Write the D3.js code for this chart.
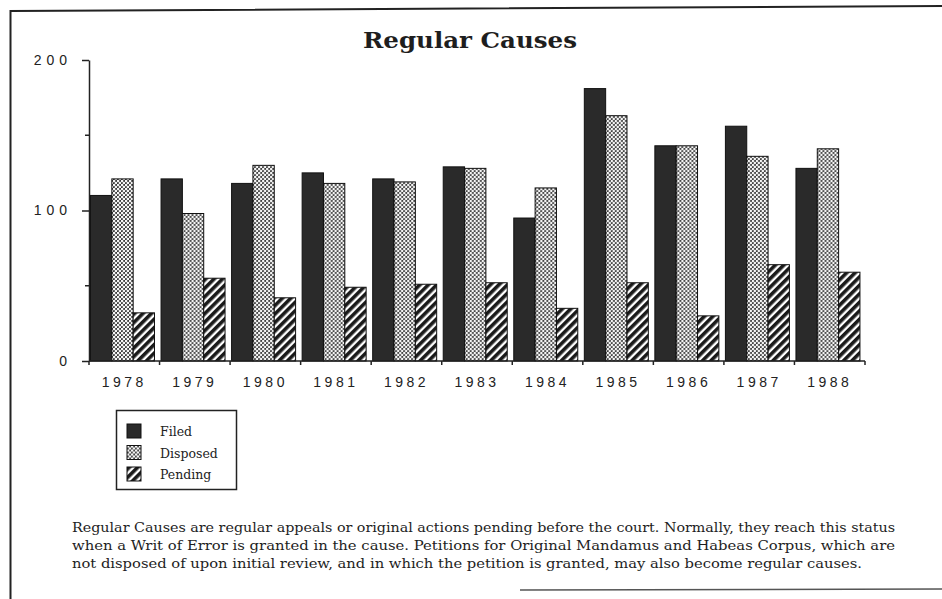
<!DOCTYPE html>
<html>
<head>
<meta charset="utf-8">
<script src="https://cdn.jsdelivr.net/npm/d3@7"></script>
<style>
  html, body { margin: 0; padding: 0; background: #fff; }
  svg { display: block; }
</style>
</head>
<body>
<div id="chart"></div>
<script>
// ── Data ──────────────────────────────────────────────────────────────────────
const years = ["1978", "1979", "1980", "1981", "1982", "1983", "1984", "1985", "1986", "1987", "1988"];
const seriesNames = ["Filed", "Disposed", "Pending"];
const filed    = [110, 121, 118, 125, 121, 129, 95, 181, 143, 156, 128];
const disposed = [121,  98, 130, 118, 119, 128, 115, 163, 143, 136, 141];
const pending  = [ 32,  55,  42,  49,  51,  52,  35,  52,  30,  64,  59];
const yTicks = [0, 100, 200];
const yMinorTicks = [50, 150];
const captionLines = [
  "Regular Causes are regular appeals or original actions pending before the court. Normally, they reach this status",
  "when a Writ of Error is granted in the cause.  Petitions for Original Mandamus and Habeas Corpus, which are",
  "not disposed of upon initial review, and in which the petition is granted, may also become regular causes.",
];

const W = 942, H = 599;
const svg = d3.select("#chart").append("svg").attr("width", W).attr("height", H);

// ── Fill patterns
const defs = svg.append("defs");

const dots = defs.append("pattern")
  .attr("id", "pat-disposed")
  .attr("patternUnits", "userSpaceOnUse")
  .attr("width", 4).attr("height", 4);
dots.append("rect").attr("width", 4).attr("height", 4).attr("fill", "#3c3c3c");
dots.append("circle").attr("cx", 1).attr("cy", 1).attr("r", 1.35).attr("fill", "#f4f4f4");
dots.append("circle").attr("cx", 3).attr("cy", 3).attr("r", 1.35).attr("fill", "#f4f4f4");

const stripes = defs.append("pattern")
  .attr("id", "pat-pending")
  .attr("patternUnits", "userSpaceOnUse")
  .attr("width", 6).attr("height", 6)
  .attr("patternTransform", "rotate(45)");
stripes.append("rect").attr("width", 6).attr("height", 6).attr("fill", "#fff");
stripes.append("rect").attr("width", 3.6).attr("height", 6).attr("fill", "#1a1a1a");

const fills = {
  Filed: "#2a2a2a",
  Disposed: "url(#pat-disposed)",
  Pending: "url(#pat-pending)",
};

// ── Frame (scanned page border)
svg.append("path")
  .attr("d", "M10.5,599 L10.5,11 L942,6")
  .attr("fill", "none").attr("stroke", "#222").attr("stroke-width", 2);
svg.append("line")
  .attr("x1", 520).attr("x2", 942).attr("y1", 590).attr("y2", 589)
  .attr("stroke", "#555").attr("stroke-width", 1.5);

// ── Title
svg.append("text")
  .attr("x", 470).attr("y", 48)
  .attr("text-anchor", "middle")
  .attr("font-family", "'DejaVu Serif', serif")
  .attr("font-weight", "bold")
  .attr("font-size", 22)
  .attr("textLength", 214)
  .attr("lengthAdjust", "spacingAndGlyphs")
  .attr("fill", "#1e1e1e")
  .text("Regular Causes");

// ── Scales
const x0 = d3.scaleBand().domain(years).range([89, 865]);
const x1 = d3.scaleBand().domain(seriesNames).range([1.5, 65.5]);
const y = d3.scaleLinear().domain([0, 200]).range([361, 60]);

const rows = years.map((yr, i) => ({
  year: yr,
  values: [
    { key: "Filed", value: filed[i] },
    { key: "Disposed", value: disposed[i] },
    { key: "Pending", value: pending[i] },
  ],
}));

// ── Bars
const groups = svg.append("g").selectAll("g")
  .data(rows)
  .join("g")
  .attr("transform", (d) => `translate(${x0(d.year)},0)`);

groups.selectAll("rect")
  .data((d) => d.values)
  .join("rect")
  .attr("x", (d) => x1(d.key))
  .attr("y", (d) => y(d.value))
  .attr("width", x1.bandwidth())
  .attr("height", (d) => y(0) - y(d.value))
  .attr("fill", (d) => fills[d.key])
  .attr("stroke", "#111")
  .attr("stroke-width", 1);

// ── Y axis
const yAxis = svg.append("g")
  .attr("transform", "translate(89,0)")
  .call(d3.axisLeft(y).tickValues(yTicks).tickSize(7).tickPadding(10).tickSizeOuter(0));
yAxis.select(".domain").attr("stroke", "#222").attr("stroke-width", 1.5);
yAxis.selectAll(".tick line").attr("stroke", "#222").attr("stroke-width", 1.5);
yAxis.selectAll(".tick text")
  .attr("font-family", "'Liberation Sans', Arial, sans-serif")
  .attr("font-size", 14)
  .attr("letter-spacing", 5)
  .attr("fill", "#222");

svg.append("g").selectAll("line")
  .data(yMinorTicks)
  .join("line")
  .attr("x1", 85).attr("x2", 89)
  .attr("y1", (d) => y(d)).attr("y2", (d) => y(d))
  .attr("stroke", "#222").attr("stroke-width", 1.5);

// ── X axis (ticks at group boundaries, labels centred)
const xg = svg.append("g");
xg.append("line")
  .attr("x1", x0.range()[0]).attr("x2", x0.range()[1])
  .attr("y1", y(0)).attr("y2", y(0))
  .attr("stroke", "#222").attr("stroke-width", 1.5);
xg.selectAll("line.tick")
  .data(years.map((yr) => x0(yr)).concat([x0.range()[1]]))
  .join("line")
  .attr("class", "tick")
  .attr("x1", (d) => d).attr("x2", (d) => d)
  .attr("y1", y(0)).attr("y2", y(0) + 4)
  .attr("stroke", "#222").attr("stroke-width", 1.5);
xg.selectAll("text")
  .data(years)
  .join("text")
  .attr("x", (d) => x0(d) + x0.bandwidth() / 2)
  .attr("y", 387)
  .attr("text-anchor", "middle")
  .attr("font-family", "'Liberation Sans', Arial, sans-serif")
  .attr("font-size", 14)
  .attr("letter-spacing", 3.5)
  .attr("fill", "#222")
  .text((d) => d);

// ── Legend
const legend = svg.append("g");
legend.append("rect")
  .attr("x", 116.5).attr("y", 410.5)
  .attr("width", 120).attr("height", 79)
  .attr("fill", "#fff").attr("stroke", "#222").attr("stroke-width", 1.5);
const item = legend.selectAll("g.item")
  .data(seriesNames)
  .join("g")
  .attr("class", "item")
  .attr("transform", (d, i) => `translate(127,${424 + i * 21.5})`);
item.append("rect")
  .attr("width", 14).attr("height", 14)
  .attr("fill", (d) => fills[d])
  .attr("stroke", "#111");
item.append("text")
  .attr("x", 33).attr("y", 12)
  .attr("font-family", "'DejaVu Serif', serif")
  .attr("font-size", 12.5)
  .attr("fill", "#222")
  .text((d) => d);

// ── Caption
svg.append("g").selectAll("text")
  .data(captionLines)
  .join("text")
  .attr("x", 72)
  .attr("y", (d, i) => 532 + i * 18)
  .attr("font-family", "'DejaVu Serif', serif")
  .attr("font-size", 12.5)
  .attr("textLength", (d, i) => [823, 823, 790][i])
  .attr("lengthAdjust", "spacingAndGlyphs")
  .attr("fill", "#1e1e1e")
  .text((d) => d);
</script>
</body>
</html>
